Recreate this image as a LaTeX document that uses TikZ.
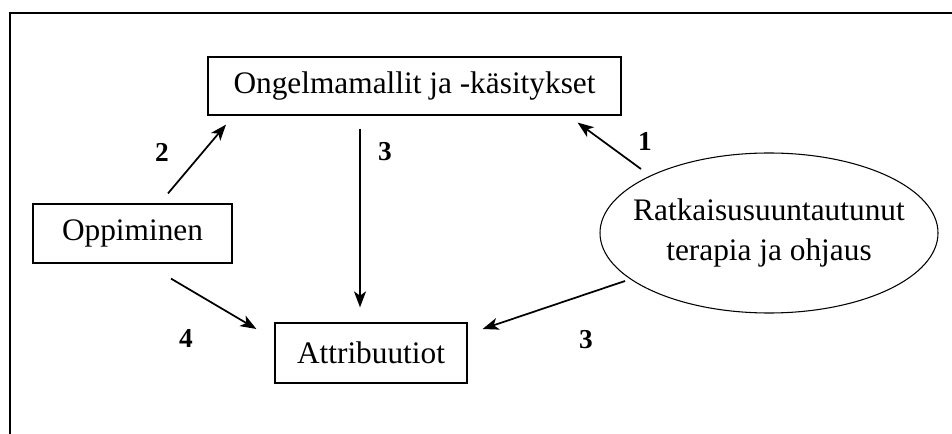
\documentclass[tikz,border=0pt]{standalone}
\usepackage{fontspec}
\setmainfont{Liberation Serif}
\usetikzlibrary{arrows.meta,shapes.geometric,calc}
\begin{document}
\begin{tikzpicture}[x=0.75pt,y=-0.75pt,
  box/.style={draw,line width=0.9pt,inner sep=0pt,font=\fontsize{23.5}{28}\selectfont},
  arr/.style={-{Stealth[length=12pt,width=9pt,inset=3.2pt]},line width=1.3pt},
  lbl/.style={font=\fontsize{20.5}{24}\selectfont\bfseries},
  frame/.style={line width=2.2pt}]
\useasboundingbox (0,0) rectangle (952,434);
\coordinate (fc) at (10,13);
\coordinate (fr) at (960,13);
\coordinate (fb) at (10,445);
\draw[frame] (fr) -- (fc) -- (fb);
\node[box,minimum width=413*0.75pt,minimum height=58*0.75pt] (ong) at (414.5,86) {Ongelmamallit ja -käsitykset};
\node[box,minimum width=199*0.75pt,minimum height=59*0.75pt] (opp) at (132.5,233.5) {Oppiminen};
\node[box,minimum width=192*0.75pt,minimum height=60*0.75pt] (att) at (371,353) {Attribuutiot};
\node[draw,ellipse,line width=0.8pt,inner sep=0pt,minimum width=338*0.75pt,minimum height=160*0.75pt] (rat) at (769,233) {};
\node[align=center,inner sep=0pt,font=\fontsize{23.5}{30}\selectfont] (ratt) at (rat.center) {Ratkaisusuuntautunut\\terapia ja ohjaus};
\draw[arr] ($(opp.north)+(35.5,-10)$) -- ($(ong.south)+(-188.5,9)$);
\draw[arr] ($(ong.south)+(-54.5,13)$) -- ($(att.north)+(-11,-15)$);
\draw[arr] ($(opp.south)+(38.5,15)$) -- ($(att.west)+(-18,-24)$);
\draw[arr] ($(rat.center)+(-128,-64)$) -- ($(ong.south east)+(-44,7)$);
\draw[arr] ($(rat.center)+(-144,48)$) -- ($(att.east)+(15,-24)$);
\node[lbl] (l2) at (162,152) {2};
\node[lbl] (l3a) at (385,152) {3};
\node[lbl] (l1) at (645,141) {1};
\node[lbl] (l4) at (186,339) {4};
\node[lbl] (l3b) at (586,340) {3};
\end{tikzpicture}
\end{document}
